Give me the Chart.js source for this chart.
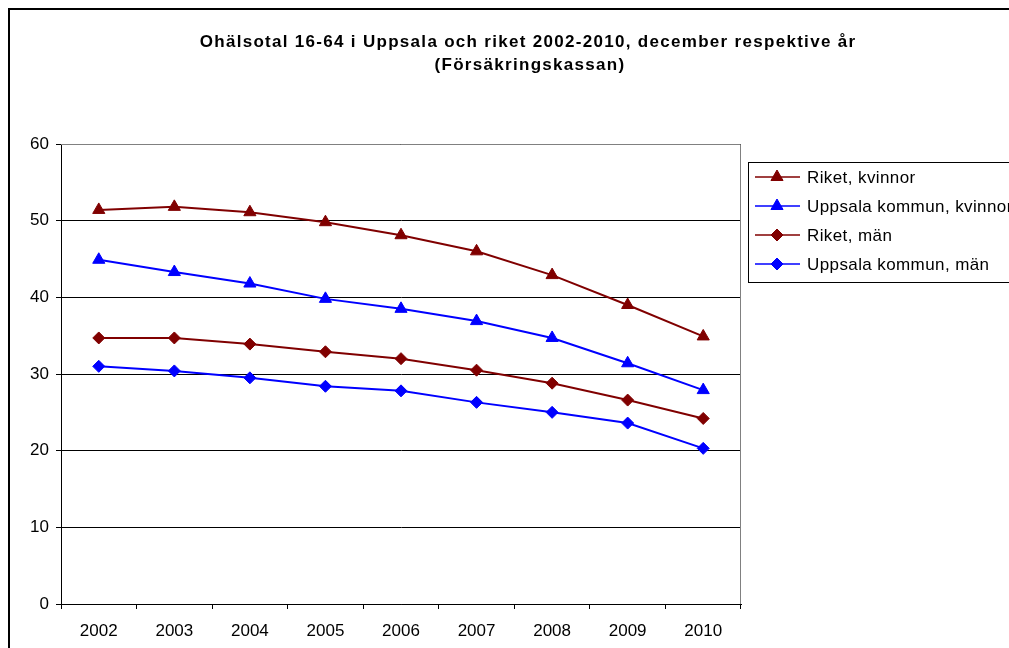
<!DOCTYPE html>
<html>
<head>
<meta charset="utf-8">
<script src="https://cdn.jsdelivr.net/npm/chart.js@4/dist/chart.umd.min.js"></script>
<style>
  html, body { margin: 0; padding: 0; background: #fff; }
  canvas { display: block; }
</style>
</head>
<body>
<canvas id="mycanvas" width="1009" height="648"></canvas>
<script>
var years = ['2002', '2003', '2004', '2005', '2006', '2007', '2008', '2009', '2010'];
var riketKvinnor = [51.4, 51.8, 51.1, 49.8, 48.1, 46.0, 42.9, 39.0, 34.9];
var uppsalaKvinnor = [44.9, 43.3, 41.8, 39.8, 38.5, 36.9, 34.7, 31.4, 27.9];
var riketMan = [34.7, 34.7, 33.9, 32.9, 32.0, 30.5, 28.8, 26.6, 24.2];
var uppsalaMan = [31.0, 30.4, 29.5, 28.4, 27.8, 26.3, 25.0, 23.6, 20.3];
var titleLines = ['Ohälsotal 16-64 i Uppsala och riket 2002-2010, december respektive år', '(Försäkringskassan)'];

var darkRed = '#800000';
var blue = '#0000ff';
var font = 'Liberation Sans, Arial, sans-serif';

function line(label, data, color, style, r) {
	return {
		label: label,
		data: data,
		borderColor: color,
		backgroundColor: color,
		borderWidth: 2,
		tension: 0,
		pointStyle: style,
		pointRadius: r,
		pointHoverRadius: r,
		pointBorderWidth: 1
	};
}

// frame, title, plot border and legend are drawn by hand
var decorations = {
	id: 'decorations',
	beforeDraw: function(chart) {
		var ctx = chart.ctx;
		ctx.save();
		ctx.fillStyle = '#fff';
		ctx.fillRect(0, 0, chart.width, chart.height);
		ctx.strokeStyle = '#000';
		ctx.lineWidth = 2;
		ctx.beginPath();
		ctx.moveTo(9, chart.height);
		ctx.lineTo(9, 9);
		ctx.lineTo(chart.width, 9);
		ctx.stroke();
		ctx.fillStyle = '#000';
		ctx.font = 'bold 17px ' + font;
		ctx.letterSpacing = '1.3px';
		ctx.textAlign = 'center';
		ctx.textBaseline = 'middle';
		ctx.fillText(titleLines[0], 528, 42);
		ctx.fillText(titleLines[1], 530, 65);
		ctx.restore();
	},
	afterDraw: function(chart) {
		var ctx = chart.ctx;
		var a = chart.chartArea;
		ctx.save();
		ctx.strokeStyle = '#808080';
		ctx.lineWidth = 1;
		ctx.beginPath();
		ctx.moveTo(a.left, a.top + 0.5);
		ctx.lineTo(a.right - 0.5, a.top + 0.5);
		ctx.lineTo(a.right - 0.5, a.bottom);
		ctx.stroke();

		// legend
		ctx.strokeStyle = '#000';
		ctx.strokeRect(748.5, 162.5, 300, 120);
		ctx.font = '17px ' + font;
		ctx.letterSpacing = '0.4px';
		ctx.textAlign = 'left';
		ctx.textBaseline = 'middle';
		chart.data.datasets.forEach(function(ds, i) {
			var y = 177 + i * 29;
			ctx.strokeStyle = ds.borderColor;
			ctx.lineWidth = 1.5;
			ctx.beginPath();
			ctx.moveTo(755, y);
			ctx.lineTo(800, y);
			ctx.stroke();
			ctx.fillStyle = ds.backgroundColor;
			ctx.lineWidth = 1;
			Chart.helpers.drawPoint(ctx, {pointStyle: ds.pointStyle, radius: ds.pointRadius, rotation: 0, borderWidth: 1}, 777, y);
			ctx.fillStyle = '#000';
			ctx.fillText(ds.label, 807, y + 1);
		});
		ctx.restore();
	}
};

var ctx = document.getElementById('mycanvas');

var lineGraph = new Chart(ctx, {
	type: 'line',
	data: {
		labels: years,
		datasets: [
			line('Riket, kvinnor', riketKvinnor, darkRed, 'triangle', 7),
			line('Uppsala kommun, kvinnor', uppsalaKvinnor, blue, 'triangle', 7),
			line('Riket, män', riketMan, darkRed, 'rectRot', 6),
			line('Uppsala kommun, män', uppsalaMan, blue, 'rectRot', 6)
		]
	},
	options: {
		responsive: false,
		animation: false,
		events: [],
		layout: { padding: { top: 144, right: 268, bottom: 0, left: 0 } },
		plugins: {
			legend: { display: false },
			title: { display: false },
			tooltip: { enabled: false }
		},
		scales: {
			x: {
				offset: true,
				grid: { offset: true, drawOnChartArea: false, drawTicks: true, tickLength: 5, color: '#000' },
				border: { color: '#000', width: 1 },
				ticks: { color: '#000', font: { family: font, size: 17 }, padding: 12, maxRotation: 0 },
				afterFit: function(scale) { scale.height = 44; }
			},
			y: {
				min: 0,
				max: 60,
				ticks: { stepSize: 10, color: '#000', font: { family: font, size: 17 }, padding: 7 },
				grid: { color: '#000', tickLength: 5, lineWidth: 1 },
				border: { color: '#000', width: 1 },
				afterFit: function(scale) { scale.width = 61; }
			}
		}
	},
	plugins: [decorations]
});
</script>
</body>
</html>
